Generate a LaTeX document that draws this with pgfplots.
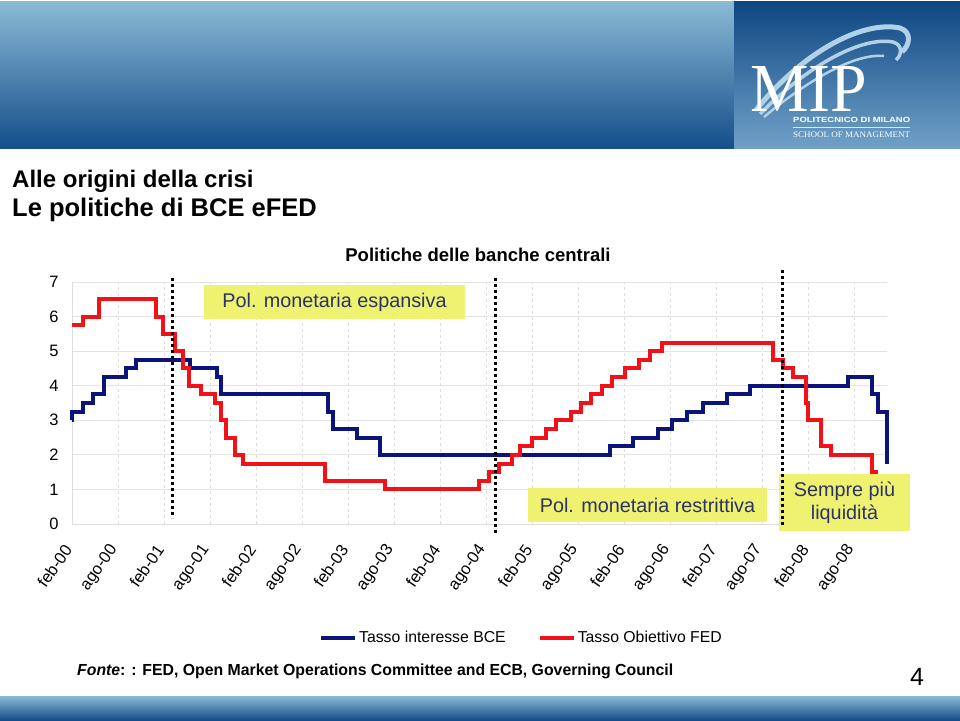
\documentclass[border=0pt]{standalone}
\usepackage{pgfplots}
\pgfplotsset{compat=1.18}
\usepackage{pgfplotstable}
\usepackage{fontspec}
\setmainfont{Liberation Sans}
\newfontfamily\seriffont{Liberation Serif}
\definecolor{fedred}{RGB}{240,18,24}
\definecolor{bcenavy}{RGB}{10,20,122}
\definecolor{boxyellow}{RGB}{238,242,112}
\definecolor{boxtext}{RGB}{45,50,100}
\definecolor{hdrlight}{RGB}{138,186,212}
\definecolor{hdrdark}{RGB}{20,78,138}
\definecolor{logodark}{RGB}{14,70,130}
\definecolor{logolight}{RGB}{112,162,200}
\definecolor{arccol}{RGB}{175,210,232}

\pgfplotstableread{
x y
0 3.0
0.05 3.25
1.43 3.5
2.7 3.75
4.2 4.25
7.0 4.5
8.3 4.75
15.4 4.5
18.9 4.25
19.4 3.75
33.3 3.25
34.0 2.75
37.1 2.5
40.1 2.0
70.1 2.25
73.1 2.5
76.3 2.75
78.2 3.0
80.2 3.25
82.2 3.5
85.3 3.75
88.3 4.0
101.1 4.25
104.3 3.75
105.0 3.25
106.2 1.75
}\bce

\pgfplotstableread{
x y
0 5.75
1.43 6.0
3.5 6.5
10.9 6.0
11.85 5.5
13.4 5.0
14.5 4.5
15.2 4.0
16.8 3.75
18.6 3.5
19.4 3.0
20.1 2.5
21.2 2.0
22.3 1.75
33.0 1.25
40.8 1.0
53.0 1.25
54.3 1.5
55.7 1.75
57.3 2.0
58.4 2.25
60.0 2.5
61.7 2.75
63.1 3.0
65.0 3.25
66.3 3.5
67.6 3.75
69.0 4.0
70.4 4.25
72.0 4.5
73.9 4.75
75.3 5.0
76.9 5.25
91.3 4.75
92.6 4.5
94.0 4.25
95.6 3.5
95.9 3.0
97.6 2.25
98.9 2.0
104.3 1.5
105.0 1.5
}\fed

\begin{document}
\begin{tikzpicture}[x=1pt,y=1pt]
\fill[white] (0,0) rectangle (960,720);
\useasboundingbox (0,0) rectangle (960,720);
% header band
\shade[top color=hdrlight, bottom color=hdrdark] (0,571) rectangle (734,718);
\shade[top color=logodark, bottom color=logolight] (734,571) rectangle (960,718);
% logo swooshes
\draw[arccol, line width=5pt] (756,610) .. controls (800,665) and (860,700) .. (900,692) .. controls (912,688) and (910,675) .. (902,668);
\draw[arccol, line width=3.5pt] (760,606) .. controls (805,652) and (860,684) .. (893,678) .. controls (903,675) and (902,665) .. (896,660);
\draw[arccol, line width=2.5pt] (764,603) .. controls (808,640) and (855,667) .. (884,664);
\node[anchor=base west, inner sep=0, text=white] at (750,608) {\resizebox{117pt}{45pt}{\seriffont MIP}};
\node[anchor=base west, inner sep=0, text=white] at (793,597) {\resizebox{117pt}{\height}{\fontsize{7.5}{7.5}\selectfont\bfseries POLITECNICO DI MILANO}};
\draw[white!75!logolight, line width=0.6pt] (793,592.5) -- (910,592.5);
\node[anchor=base west, inner sep=0, text=white] at (793,582) {\resizebox{117pt}{\height}{\fontsize{8.5}{8.5}\selectfont\seriffont SCHOOL OF MANAGEMENT}};
% bottom band
\shade[top color=hdrlight, bottom color=hdrdark] (0,0) rectangle (960,24);
% titles
\node[anchor=base west, inner sep=0] at (12,532) {\fontsize{24}{24}\selectfont\bfseries Alle origini della crisi};
\node[anchor=base west, inner sep=0] at (12,503) {\fontsize{25.5}{25.5}\selectfont\bfseries Le politiche di BCE eFED};
\node[anchor=base, inner sep=0] at (478,458) {\fontsize{18.5}{18.5}\selectfont\bfseries Politiche delle banche centrali};

\begin{axis}[
  at={(72pt,196pt)}, anchor=south west,
  scale only axis, width=815pt, height=242pt,
  xmin=0, xmax=106.2, ymin=0, ymax=7,
  clip=false,
  xtick={0,6,...,102},
  xticklabels={feb-00,ago-00,feb-01,ago-01,feb-02,ago-02,feb-03,ago-03,feb-04,ago-04,feb-05,ago-05,feb-06,ago-06,feb-07,ago-07,feb-08,ago-08},
  ytick={0,1,...,7},
  /pgf/number format/assume math mode=true,
  ticklabel style={font=\fontsize{16.5}{16.5}\selectfont},
  xticklabel style={yshift=-20pt, xshift=-2pt, rotate=55, anchor=east},
  yticklabel style={xshift=-10pt},
  major tick length=0pt,
  xmajorgrids, ymajorgrids,
  x grid style={dashed, black!13, line width=0.7pt},
  y grid style={black!11, line width=0.8pt},
  axis x line*=bottom, axis y line*=left,
  axis line style={-, draw=black!13, line width=0.8pt},
  legend columns=2,
  legend style={draw=none, fill=none, at={(0.5515,-0.471)}, anchor=center,
    font=\fontsize{15.8}{15.8}\selectfont, inner sep=0pt,
    /tikz/every even column/.append style={column sep=30pt}},
  legend image code/.code={\draw[#1] (0pt,0pt) -- (34pt,0pt);},
]
\addplot[const plot, bcenavy, line width=4pt] table[x=x,y=y] {\bce};
\addlegendentry{Tasso interesse BCE}
\addplot[const plot, fedred, line width=4pt] table[x=x,y=y] {\fed};
\addlegendentry{Tasso Obiettivo FED}
\end{axis}

% yellow boxes
\fill[boxyellow] (204,401) rectangle (465,435);
\node[text=boxtext, inner sep=0, font=\fontsize{19.8}{19.8}\selectfont] at (334.5,418) {Pol. monetaria espansiva};
\fill[boxyellow] (528,198) rectangle (767,232);
\node[text=boxtext, inner sep=0, font=\fontsize{19.8}{19.8}\selectfont] at (647.5,215) {Pol. monetaria restrittiva};
\fill[boxyellow] (779,189) rectangle (910,246);
\node[text=boxtext, inner sep=0, align=center, font=\fontsize{19.8}{23}\selectfont] at (844.5,217.5) {Sempre più\\liquidità};
% dotted separators
\draw[line width=3pt, dash pattern=on 3pt off 3pt] (172,442) -- (172,202);
\draw[line width=3pt, dash pattern=on 3pt off 3pt] (495,442) -- (495,187);
\draw[line width=3pt, dash pattern=on 3pt off 3pt] (782,450) -- (782,193);
% source and page number
\node[anchor=base west, inner sep=0] at (77,45) {\resizebox{596pt}{\height}{\fontsize{16}{16}\selectfont\bfseries\textit{Fonte}: : FED, Open Market Operations Committee and ECB, Governing Council}};
\node[anchor=base, inner sep=0] at (917,35) {\fontsize{25}{25}\selectfont 4};
\end{tikzpicture}
\end{document}
